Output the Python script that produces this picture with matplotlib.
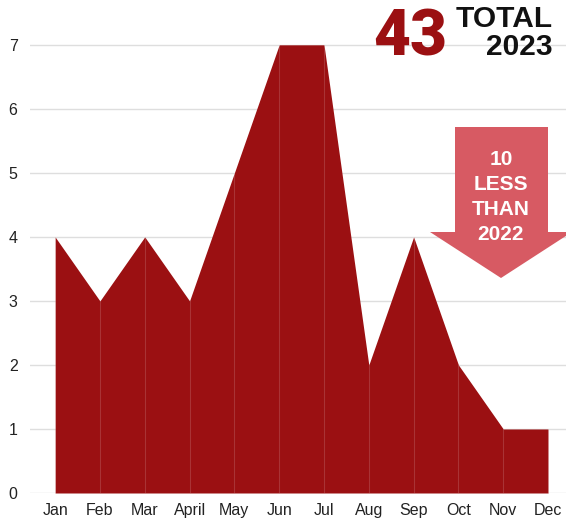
import matplotlib
matplotlib.use("Agg")
import matplotlib.pyplot as plt
from matplotlib.patches import Polygon
import numpy as np

months = ["Jan", "Feb", "Mar", "April", "May", "Jun", "Jul", "Aug", "Sep", "Oct", "Nov", "Dec"]
counts = [4, 3, 4, 3, 5, 7, 7, 2, 4, 2, 1, 1]
y_ticks = [0, 1, 2, 3, 4, 5, 6, 7]
total_2023 = 43
less_than_2022 = 10

W, H = 566, 523
fig = plt.figure(figsize=(W / 100, H / 100), dpi=100)
ax = fig.add_axes([30 / W, 30 / H, (W - 30) / W, (H - 30) / H])

x = np.arange(len(months))
ax.fill_between(x, counts, 0, color="#9b1012", linewidth=0, zorder=2)
# faint separators at each month
for xi, v in zip(x, counts):
    ax.plot([xi, xi], [0, v], color="white", alpha=0.15, linewidth=0.8, zorder=3)

ax.set_xlim(-0.56, 11.4)
ax.set_ylim(0, 7.7)
ax.set_xticks(x)
ax.set_xticklabels(months)
ax.set_yticks(y_ticks)
ax.grid(axis="y", color="#dedede", linewidth=1, zorder=0)
ax.set_axisbelow(True)
for s in ax.spines.values():
    s.set_visible(False)
ax.tick_params(length=0, labelsize=11.5, labelcolor="#222222")
ax.tick_params(axis="y", pad=9)
ax.tick_params(axis="x", pad=7)
for lab in ax.get_xticklabels() + ax.get_yticklabels():
    lab.set_fontfamily("Liberation Sans")

# headline
fig.text(447 / W, 1 - 55 / H, str(total_2023), ha="right", va="baseline",
         fontsize=46, fontweight="black", family="Roboto", color="#9b1012")
fig.text(553 / W, 1 - 33 / H, "TOTAL\n2023", ha="right", va="center",
         fontsize=21.5, fontweight="bold", family="Liberation Sans", color="#111111",
         linespacing=1.0)

# down arrow
pts = [(455, 127), (548, 127), (548, 232), (572, 232), (501, 278),
       (430, 232), (455, 232)]
arrow = Polygon([(px / W, 1 - py / H) for px, py in pts], closed=True,
                transform=fig.transFigure, facecolor="#d75a63",
                edgecolor="none", zorder=5)
fig.patches.append(arrow)
fig.text(501 / W, 1 - 197 / H, f"{less_than_2022}\nLESS\nTHAN\n2022",
         ha="center", va="center", fontsize=15, fontweight="bold",
         family="Liberation Sans", color="white", linespacing=1.42, zorder=6)

fig.savefig("out.png", dpi=100)
